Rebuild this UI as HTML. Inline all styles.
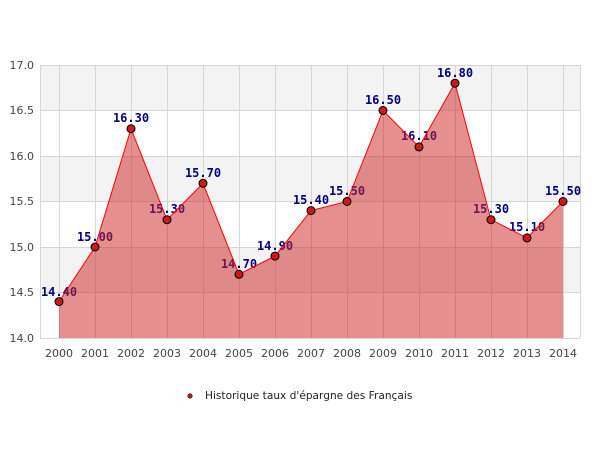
<!DOCTYPE html><html><head><style>body{margin:0;background:#fff}</style></head><body>
<svg width="600" height="450" xmlns="http://www.w3.org/2000/svg" font-family="DejaVu Sans, Liberation Sans, sans-serif">
<rect x="0" y="0" width="600" height="450" fill="#fff"/>
<rect x="40" y="65" width="540" height="45.5" fill="#f3f3f3"/>
<rect x="40" y="156" width="540" height="45.5" fill="#f3f3f3"/>
<rect x="40" y="247" width="540" height="45.5" fill="#f3f3f3"/>
<g stroke="#d6d6d6" stroke-width="1">
<line x1="40" y1="65.5" x2="580" y2="65.5"/><line x1="40" y1="110.5" x2="580" y2="110.5"/><line x1="40" y1="156.5" x2="580" y2="156.5"/><line x1="40" y1="201.5" x2="580" y2="201.5"/><line x1="40" y1="247.5" x2="580" y2="247.5"/><line x1="40" y1="292.5" x2="580" y2="292.5"/>
<line x1="40.5" y1="65" x2="40.5" y2="338"/><line x1="580.5" y1="65" x2="580.5" y2="338"/>
<line x1="59.5" y1="65" x2="59.5" y2="338"/><line x1="95.5" y1="65" x2="95.5" y2="338"/><line x1="131.5" y1="65" x2="131.5" y2="338"/><line x1="167.5" y1="65" x2="167.5" y2="338"/><line x1="203.5" y1="65" x2="203.5" y2="338"/><line x1="239.5" y1="65" x2="239.5" y2="338"/><line x1="275.5" y1="65" x2="275.5" y2="338"/><line x1="311.5" y1="65" x2="311.5" y2="338"/><line x1="347.5" y1="65" x2="347.5" y2="338"/><line x1="383.5" y1="65" x2="383.5" y2="338"/><line x1="419.5" y1="65" x2="419.5" y2="338"/><line x1="455.5" y1="65" x2="455.5" y2="338"/><line x1="491.5" y1="65" x2="491.5" y2="338"/><line x1="527.5" y1="65" x2="527.5" y2="338"/><line x1="563.5" y1="65" x2="563.5" y2="338"/>
<line x1="40" y1="338.5" x2="580" y2="338.5"/>
</g>
<g font-size="11" fill="#444" text-anchor="end">
<text x="34" y="69">17.0</text><text x="34" y="114">16.5</text><text x="34" y="160">16.0</text><text x="34" y="205">15.5</text><text x="34" y="251">15.0</text><text x="34" y="296">14.5</text><text x="34" y="342">14.0</text>
</g>
<g font-size="11" fill="#444" text-anchor="middle">
<text x="59" y="357">2000</text><text x="95" y="357">2001</text><text x="131" y="357">2002</text><text x="167" y="357">2003</text><text x="203" y="357">2004</text><text x="239" y="357">2005</text><text x="275" y="357">2006</text><text x="311" y="357">2007</text><text x="347" y="357">2008</text><text x="383" y="357">2009</text><text x="419" y="357">2010</text><text x="455" y="357">2011</text><text x="491" y="357">2012</text><text x="527" y="357">2013</text><text x="563" y="357">2014</text>
</g>
<g font-family="DejaVu Sans Mono, Liberation Mono, monospace" font-weight="bold" font-size="12" fill="#000080" text-anchor="middle">
<text x="59" y="296">14.40</text><text x="95" y="241">15.00</text><text x="131" y="122">16.30</text><text x="167" y="213">15.30</text><text x="203" y="177">15.70</text><text x="239" y="268">14.70</text><text x="275" y="250">14.90</text><text x="311" y="204">15.40</text><text x="347" y="195">15.50</text><text x="383" y="104">16.50</text><text x="419" y="140">16.10</text><text x="455" y="77">16.80</text><text x="491" y="213">15.30</text><text x="527" y="231">15.10</text><text x="563" y="195">15.50</text>
</g>
<polygon points="59,338 59,301.6 95,247 131,128.7 167,219.7 203,183.3 239,274.3 275,256.1 311,210.6 347,201.5 383,110.5 419,146.9 455,83.2 491,219.7 527,237.9 563,201.5 563,338" fill="rgba(205,40,40,0.52)"/>
<polyline points="59,301.6 95,247 131,128.7 167,219.7 203,183.3 239,274.3 275,256.1 311,210.6 347,201.5 383,110.5 419,146.9 455,83.2 491,219.7 527,237.9 563,201.5" fill="none" stroke="#ff0000" stroke-width="1"/>
<g fill="#cc1a1a" stroke="#000" stroke-width="1">
<circle cx="59" cy="301.6" r="4"/><circle cx="95" cy="247" r="4"/><circle cx="131" cy="128.7" r="4"/><circle cx="167" cy="219.7" r="4"/><circle cx="203" cy="183.3" r="4"/><circle cx="239" cy="274.3" r="4"/><circle cx="275" cy="256.1" r="4"/><circle cx="311" cy="210.6" r="4"/><circle cx="347" cy="201.5" r="4"/><circle cx="383" cy="110.5" r="4"/><circle cx="419" cy="146.9" r="4"/><circle cx="455" cy="83.2" r="4"/><circle cx="491" cy="219.7" r="4"/><circle cx="527" cy="237.9" r="4"/><circle cx="563" cy="201.5" r="4"/>
</g>
<circle cx="190" cy="396" r="2.2" fill="#cc1a1a" stroke="#000" stroke-width="0.6"/>
<text x="205" y="399" font-size="10.6" fill="#222">Historique taux d'épargne des Français</text>
</svg>
</body></html>
